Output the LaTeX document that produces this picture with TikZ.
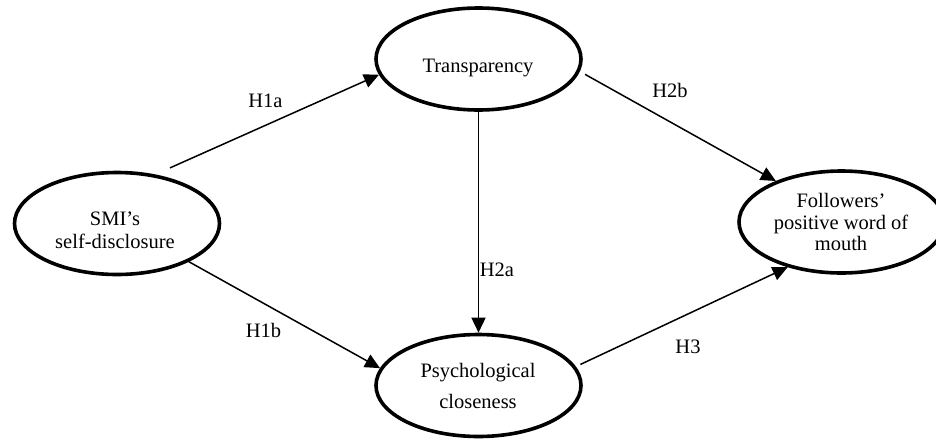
\documentclass[tikz,border=0pt]{standalone}
\usepackage{fontspec}
\setmainfont{Liberation Serif}
\usetikzlibrary{arrows.meta,shapes.geometric}
\begin{document}
\begin{tikzpicture}[x=1pt,y=-1pt,
  oval/.style={ellipse, draw, line width=3.6pt, minimum width=205pt, minimum height=102pt, inner sep=0pt},
  txt/.style={anchor=base, font=\fontsize{20.5}{24}\selectfont, inner sep=0pt},
  hyp/.style={font=\fontsize{20.5}{24}\selectfont, inner sep=0pt},
  arr/.style={-{Triangle[length=15pt,width=14pt]}, line width=1.5pt}]
\useasboundingbox (0,0) rectangle (936,442);
\fill[white] (0,0) rectangle (936,442);
% ellipses
\node[oval] (smi) at (117,223.5) {};
\node[oval] (tr) at (478.5,59) {};
\node[oval] (pc) at (478.5,385.5) {};
\node[oval] (fw) at (841.5,222) {};
% texts
\node[txt] (smiA) at (115,225) {SMI’s};
\node[txt] (smiB) at (115,248) {self-disclosure};
\node[txt] (trA) at (478,72) {Transparency};
\node[txt] (pcA) at (478,377.5) {Psychological};
\node[txt] (pcB) at (478,408) {closeness};
\node[txt] (fwA) at (841,207.7) {Followers’};
\node[txt] (fwB) at (841,229.3) {positive word of};
\node[txt] (fwC) at (841,250.7) {mouth};
% hypothesis labels
\node[hyp] (h1a) at (265.5,100.5) {H1a};
\node[hyp] (h1b) at (263.5,330.5) {H1b};
\node[hyp] (h2a) at (497,270) {H2a};
\node[hyp] (h2b) at (670,90.5) {H2b};
\node[hyp] (h3) at (688,347) {H3};
% connectors
\draw[arr, shorten <=16pt] (smi.52) -- (tr.189);
\draw[arr] (smi.-28) -- (pc.170);
\draw[arr] (tr.south) -- (pc.north);
\draw[arr, shorten <=6pt] (tr.-7) -- (fw.148.5);
\draw[arr, shorten <=5pt] (pc.11) -- (fw.220);
\end{tikzpicture}
\end{document}
